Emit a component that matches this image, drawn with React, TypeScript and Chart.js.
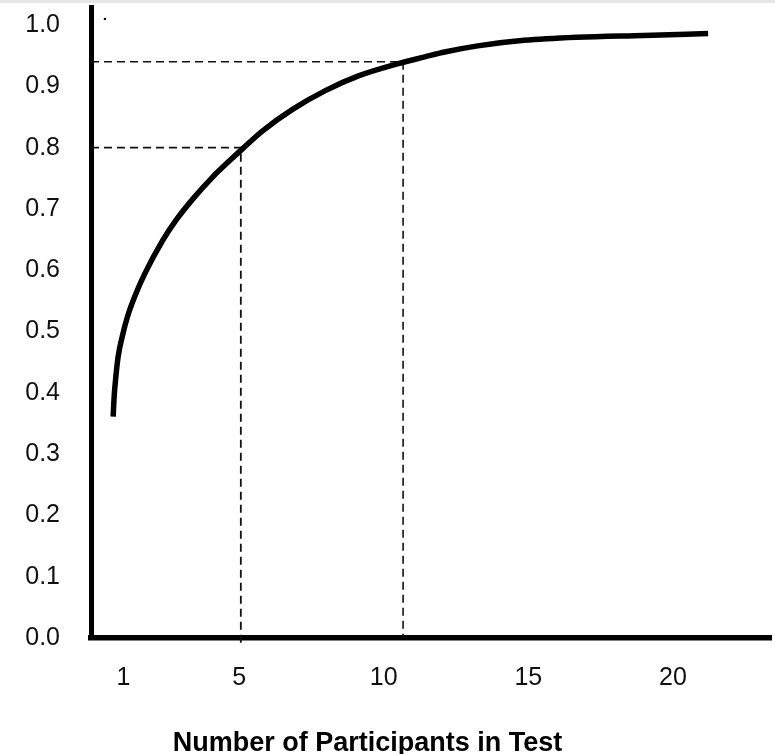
import React, { useEffect, useRef } from "react";
import { Chart, registerables } from "chart.js";

Chart.register(...registerables);

// Tick labels
const xTickValues = [1, 5, 10, 15, 20];
const yTickValues = [0, 0.1, 0.2, 0.3, 0.4, 0.5, 0.6, 0.7, 0.8, 0.9, 1.0];
const xAxisTitle = "Number of Participants in Test";

// Main curve
const curveX = [0.646, 0.681, 0.739, 0.818, 0.956, 1.141, 1.392, 1.736, 2.365, 2.826, 3.396, 4.084, 4.658, 5.115, 5.803, 6.834, 7.982, 9.127, 10.502, 11.42, 12.107, 13.252, 14.857, 16.69, 18.982, 21.217];
const curveY = [0.361, 0.394, 0.426, 0.459, 0.491, 0.524, 0.557, 0.594, 0.649, 0.682, 0.716, 0.752, 0.778, 0.798, 0.827, 0.862, 0.893, 0.917, 0.937, 0.948, 0.956, 0.966, 0.975, 0.98, 0.983, 0.986];

// Dashed guide lines
const guide80X = [-0.12, 5.06, 5.06];
const guide80Y = [0.8, 0.8, -0.016];
const guide94X = [-0.12, 10.67, 10.67];
const guide94Y = [0.94, 0.94, 0];

// Stray dot near the top of the axis
const strayX = [0.36];
const strayY = [1.01];

const toPoints = (xs: number[], ys: number[]) => xs.map((x, i) => ({ x, y: ys[i] }));

const FONT = "'Liberation Sans', Arial, Helvetica, sans-serif";

const bottomTitle = {
  id: "bottomTitle",
  afterDraw(chart: any) {
    const ctx = chart.ctx;
    ctx.save();
    ctx.font = `bold 27px ${FONT}`;
    ctx.fillStyle = "#000";
    ctx.textAlign = "center";
    ctx.textBaseline = "alphabetic";
    ctx.fillText(xAxisTitle, 367.5, 751);
    ctx.restore();
  },
};

const zeroPad = (s: any) => {
  s.paddingTop = 0;
  s.paddingBottom = 0;
  s.paddingLeft = 0;
  s.paddingRight = 0;
};

export default function App() {
  const ref = useRef<HTMLCanvasElement | null>(null);

  useEffect(() => {
    if (!ref.current) return;
    const chart = new Chart(ref.current, {
      type: "scatter",
      data: {
        datasets: [
          {
            data: toPoints(curveX, curveY),
            showLine: true,
            borderColor: "#000",
            borderWidth: 5.5,
            pointRadius: 0,
            cubicInterpolationMode: "monotone",
            order: 1,
          },
          {
            data: toPoints(guide80X, guide80Y),
            showLine: true,
            borderColor: "#111",
            borderWidth: 1.8,
            borderDash: [8, 5],
            pointRadius: 0,
            tension: 0,
            clip: false,
            order: 2,
          },
          {
            data: toPoints(guide94X, guide94Y),
            showLine: true,
            borderColor: "#111",
            borderWidth: 1.6,
            borderDash: [8, 5],
            pointRadius: 0,
            tension: 0,
            order: 2,
          },
          {
            data: toPoints(strayX, strayY),
            showLine: false,
            pointRadius: 1.2,
            backgroundColor: "#000",
            borderWidth: 0,
            order: 3,
          },
        ],
      },
      options: {
        responsive: false,
        animation: false,
        layout: { padding: { top: 7, left: 0, right: 0, bottom: 0 } },
        plugins: {
          legend: { display: false },
          tooltip: { enabled: false },
        },
        scales: {
          x: {
            type: "linear",
            min: -0.12,
            max: 23.39,
            afterBuildTicks: (s: any) => {
              s.ticks = xTickValues.map((v) => ({ value: v }));
            },
            afterFit: (s: any) => {
              s.height = 116;
              zeroPad(s);
            },
            ticks: {
              color: "#111",
              font: { family: FONT, size: 25 },
              padding: 25,
              maxRotation: 0,
              callback: (v: any) => String(v),
            },
            grid: { display: false, drawTicks: false },
            border: { display: true, color: "#000", width: 5.5 },
          },
          y: {
            type: "linear",
            min: 0,
            max: 1.0294,
            afterBuildTicks: (s: any) => {
              s.ticks = yTickValues.map((v) => ({ value: v }));
            },
            afterFit: (s: any) => {
              s.width = 91;
              zeroPad(s);
            },
            ticks: {
              color: "#111",
              font: { family: FONT, size: 25 },
              padding: 31,
              callback: (v: any) => Number(v).toFixed(1),
            },
            grid: { display: false, drawTicks: false },
            border: { display: true, color: "#000", width: 5 },
          },
        },
      },
      plugins: [bottomTitle],
    });
    return () => chart.destroy();
  }, []);

  return (
    <div style={{ position: "fixed", left: 0, top: 0, width: 775, height: 754, background: "#fff", overflow: "hidden" }}>
      <div style={{ position: "absolute", left: 0, top: 0, width: 775, height: 3, background: "#e6e6e6" }} />
      <canvas ref={ref} width={775} height={754} style={{ display: "block" }} />
    </div>
  );
}
